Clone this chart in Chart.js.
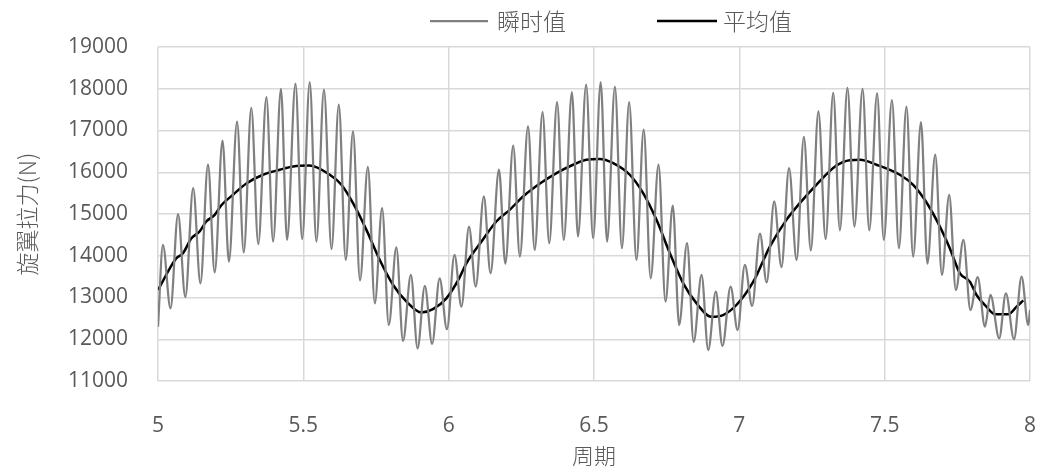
<!DOCTYPE html>
<html>
<head>
<meta charset="utf-8">
<script src="https://cdn.jsdelivr.net/npm/chart.js@4/dist/chart.umd.min.js"></script>
<style>
  html, body { margin: 0; padding: 0; background: #fff; }
  #wrap { width: 1043px; height: 473px; }
</style>
</head>
<body>
<div id="wrap"><canvas id="chart"></canvas></div>
<script>
// Datos
const labelInstantaneo = '瞬时值';
const labelPromedio = '平均值';
const tituloX = '周期';
const tituloY = '旋翼拉力(N)';

// Valor instantáneo: picos y valles
const instX = [
  5.000, 5.017, 5.043, 5.069, 5.094, 5.121, 5.146, 5.172, 5.195, 5.222, 5.244, 5.272, 5.295, 5.321, 5.345, 5.373, 5.396, 5.423, 5.444, 5.473, 5.496,
  5.522, 5.545, 5.571, 5.597, 5.622, 5.646, 5.671, 5.695, 5.722, 5.746, 5.771, 5.794, 5.820, 5.843, 5.870, 5.893, 5.918, 5.943, 5.969, 5.994,
  6.020, 6.044, 6.070, 6.093, 6.121, 6.144, 6.173, 6.195, 6.222, 6.245, 6.273, 6.296, 6.323, 6.346, 6.373, 6.396, 6.424, 6.445, 6.473, 6.497,
  6.523, 6.545, 6.572, 6.596, 6.621, 6.646, 6.671, 6.695, 6.722, 6.746, 6.771, 6.793, 6.820, 6.843, 6.870, 6.893, 6.919, 6.942, 6.970, 6.994,
  7.019, 7.044, 7.071, 7.094, 7.120, 7.145, 7.171, 7.197, 7.222, 7.246, 7.272, 7.297, 7.323, 7.346, 7.372, 7.396, 7.424, 7.447, 7.474, 7.497,
  7.525, 7.549, 7.575, 7.598, 7.625, 7.647, 7.674, 7.697, 7.722, 7.745, 7.771, 7.795, 7.820, 7.845, 7.864, 7.894, 7.917, 7.945, 7.971, 7.994, 8.000
];
const instY = [
  12300, 14260, 12740, 15000, 13010, 15620, 13340, 16180, 13600, 16760, 13860, 17210, 14080, 17540, 14280, 17800, 14340, 18000, 14380, 18120, 14400,
  18160, 14340, 17980, 14160, 17620, 13900, 16980, 13410, 16130, 12860, 15140, 12340, 14200, 11960, 13540, 11780, 13280, 11890, 13460, 12240,
  14020, 12780, 14700, 13260, 15420, 13580, 16060, 13810, 16640, 13980, 17100, 14140, 17440, 14300, 17680, 14380, 17920, 14460, 18100, 14420,
  18160, 14340, 18050, 14180, 17680, 13900, 17020, 13460, 16180, 12900, 15200, 12340, 14300, 11940, 13540, 11740, 13140, 11840, 13260, 12220,
  13780, 12800, 14530, 13360, 15300, 13730, 16100, 13900, 16850, 14130, 17460, 14400, 17900, 14610, 18020, 14700, 18000, 14610, 17890, 14380,
  17730, 14180, 17570, 13980, 17200, 13810, 16420, 13540, 15460, 13180, 14380, 12700, 13490, 12300, 13060, 12020, 13100, 12000, 13500, 12340, 12700
];

// Valor promedio
const avgX = [
  5.000, 5.063, 5.086, 5.115, 5.143, 5.166, 5.195, 5.218, 5.258, 5.304, 5.361, 5.419, 5.465, 5.520,
  5.591, 5.631, 5.671, 5.717, 5.763, 5.809, 5.855, 5.906, 5.946, 5.992,
  6.036, 6.061, 6.113, 6.164, 6.210, 6.256, 6.314, 6.371, 6.428, 6.474, 6.520,
  6.566, 6.623, 6.669, 6.715, 6.761, 6.807, 6.853, 6.904, 6.944, 6.990,
  7.048, 7.105, 7.162, 7.208, 7.265, 7.334, 7.380, 7.415, 7.472, 7.552,
  7.598, 7.638, 7.684, 7.724, 7.759, 7.793, 7.816, 7.850, 7.879, 7.925, 7.954, 7.977
];
const avgY = [
  13180, 13940, 14060, 14420, 14580, 14820, 14980, 15210, 15460, 15730, 15940, 16060, 16140, 16160,
  15940, 15700, 15260, 14620, 13900, 13300, 12900, 12640, 12720, 12980,
  13460, 13820, 14340, 14820, 15100, 15420, 15730, 15980, 16180, 16300, 16320,
  16220, 15940, 15500, 14860, 14060, 13340, 12860, 12540, 12580, 12820,
  13380, 14220, 14860, 15260, 15700, 16160, 16290, 16300, 16180, 15940,
  15700, 15340, 14780, 14180, 13580, 13380, 13060, 12780, 12600, 12600, 12780, 12930
];

// Ejes
const xMin = 5, xMax = 8, xStep = 0.5;
const yMin = 11000, yMax = 19000, yStep = 1000;

const toPoints = (xs, ys) => xs.map((x, i) => ({ x: x, y: ys[i] }));

const colorTexto = '#595959';
const colorGrid = '#d9d9d9';
const fuenteNum = "'Open Sans', 'DejaVu Sans', sans-serif";
const fuenteCJK = "'Noto Sans CJK SC', sans-serif";

// Leyenda dibujada a mano (línea + texto), posiciones como en el original
const leyendaManual = {
    id: 'leyendaManual',
    afterDraw(chart) {
        const c = chart.ctx;
        const y = 21;
        const items = [
            { x0: 430, x1: 488, tx: 497, ds: chart.data.datasets[0] },
            { x0: 657, x1: 717, tx: 723, ds: chart.data.datasets[1] }
        ];
        c.save();
        items.forEach(it => {
            c.strokeStyle = it.ds.borderColor;
            c.lineWidth = it.ds.borderWidth;
            c.beginPath();
            c.moveTo(it.x0, y);
            c.lineTo(it.x1, y);
            c.stroke();
            c.fillStyle = colorTexto;
            c.font = '300 23px ' + fuenteCJK;
            c.textBaseline = 'middle';
            c.textAlign = 'left';
            c.fillText(it.ds.label, it.tx, y);
        });
        c.restore();
    }
};

const ctx = document.getElementById('chart');
new Chart(ctx, {
    type: 'line',
    data: {
        datasets: [{
            label: labelInstantaneo,
            data: toPoints(instX, instY),
            borderColor: '#808080',
            backgroundColor: '#808080',
            borderWidth: 2.25,
            pointRadius: 0,
            cubicInterpolationMode: 'monotone',
            fill: false
        }, {
            label: labelPromedio,
            data: toPoints(avgX, avgY),
            borderColor: '#000000',
            backgroundColor: '#000000',
            borderWidth: 2.5,
            pointRadius: 0,
            cubicInterpolationMode: 'monotone',
            fill: false
        }]
    },
    options: {
        responsive: true,
        maintainAspectRatio: false,
        animation: false,
        layout: {
            padding: { top: 47, right: 13, left: 0, bottom: 0 }
        },
        plugins: {
            legend: { display: false },
            tooltip: { enabled: false }
        },
        scales: {
            x: {
                type: 'linear',
                min: xMin,
                max: xMax,
                ticks: {
                    stepSize: xStep,
                    color: colorTexto,
                    font: { family: fuenteNum, size: 21 },
                    padding: 2,
                    callback: (v) => String(v)
                },
                // marcas invisibles para separar las etiquetas del eje
                grid: { color: colorGrid, lineWidth: 1.5, drawTicks: true, tickLength: 30, tickColor: 'rgba(0,0,0,0)' },
                border: { display: false },
                title: {
                    display: true,
                    text: tituloX,
                    color: colorTexto,
                    font: { family: fuenteCJK, size: 22, weight: '300' },
                    padding: { top: 0, bottom: 4 }
                },
                afterFit(scale) { scale.height = 92; }
            },
            y: {
                min: yMin,
                max: yMax,
                ticks: {
                    stepSize: yStep,
                    color: colorTexto,
                    font: { family: fuenteNum, size: 21 },
                    padding: 2,
                    callback: (v) => String(v)
                },
                grid: { color: colorGrid, lineWidth: 1.5, drawTicks: true, tickLength: 28, tickColor: 'rgba(0,0,0,0)' },
                border: { display: false },
                title: {
                    display: true,
                    text: tituloY,
                    color: colorTexto,
                    font: { family: fuenteCJK, size: 23, weight: '300' },
                    padding: { top: 13, bottom: 13 }
                },
                afterFit(scale) { scale.width = 158; }
            }
        }
    },
    plugins: [leyendaManual]
});
</script>
</body>
</html>
